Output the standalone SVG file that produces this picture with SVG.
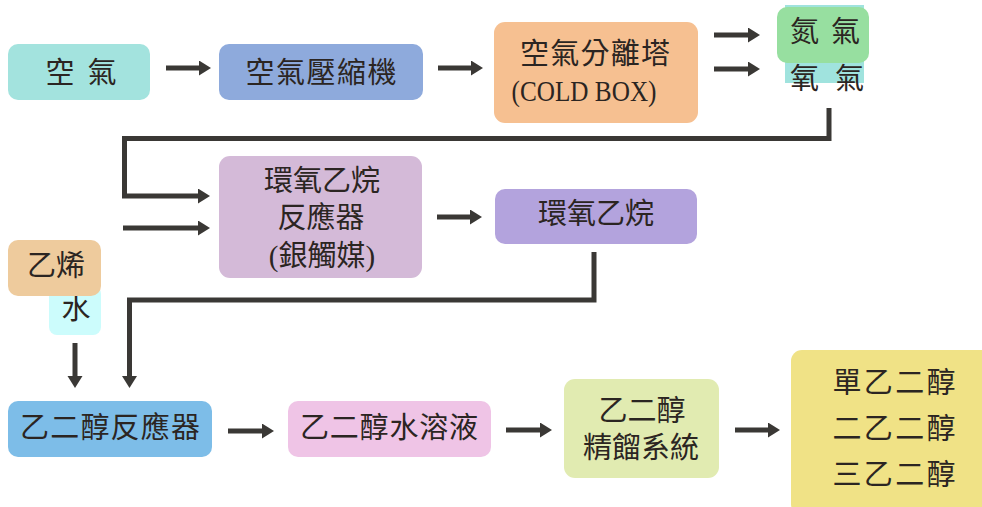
<svg xmlns="http://www.w3.org/2000/svg" width="982" height="507" viewBox="0 0 982 507">
<style>
text{font-family:"Liberation Serif","Noto Sans CJK TC",serif;font-size:29px;fill:#2b2522;text-anchor:middle;dominant-baseline:central}
.c{stroke:#3a3835;stroke-width:5;fill:none;stroke-linejoin:miter;marker-end:url(#ah)}
</style>
<defs>
<marker id="ah" markerUnits="userSpaceOnUse" markerWidth="14" markerHeight="16" refX="1" refY="7.5" orient="auto">
<path d="M0,0 L12,7.5 L0,15 z" fill="#3a3835"/>
</marker>
</defs>
<rect width="982" height="507" fill="#ffffff"/>
<g id="air"><rect x="8" y="44" width="142" height="56" rx="10" fill="#a3e3de"/><text x="81" y="73" textLength="71" lengthAdjust="spacing">空 氣</text></g>
<g id="compressor"><rect x="219" y="44" width="204" height="56" rx="10" fill="#8eaadc"/><text x="321" y="73" textLength="151" lengthAdjust="spacing">空氣壓縮機</text></g>
<g id="coldbox"><rect x="494" y="22" width="204" height="101" rx="11" fill="#f6c091"/><text x="595" y="54" textLength="150" lengthAdjust="spacing">空氣分離塔</text><text x="584" y="91" textLength="145" lengthAdjust="spacingAndGlyphs">(COLD BOX)</text></g>
<g id="oxygen"><rect x="785" y="5" width="79" height="78" fill="#a0e3de"/><text x="827" y="79" textLength="74" lengthAdjust="spacing">氧 氣</text></g>
<g id="nitrogen"><rect x="777" y="7" width="92" height="56" rx="10" fill="#97dfa0"/><text x="825" y="32" textLength="70" lengthAdjust="spacing">氮 氣</text></g>
<g id="eo_reactor"><rect x="219" y="156" width="203" height="122" rx="11" fill="#d4bad8"/><text x="322" y="181">環氧乙烷</text><text x="321" y="218">反應器</text><text x="322" y="256">(銀觸媒)</text></g>
<g id="eo"><rect x="495" y="189" width="202" height="55" rx="10" fill="#b3a3dd"/><text x="596" y="214">環氧乙烷</text></g>
<g id="water"><rect x="49" y="286" width="52" height="49" rx="8" fill="#ccfcfc"/><text x="76" y="309">水</text></g>
<g id="ethylene"><rect x="8" y="240" width="93" height="56" rx="10" fill="#eecb9d"/><text x="56" y="266">乙烯</text></g>
<g id="eg_reactor"><rect x="8" y="401" width="204" height="56" rx="10" fill="#7dbde8"/><text x="110" y="428" textLength="180" lengthAdjust="spacing">乙二醇反應器</text></g>
<g id="eg_aq"><rect x="288" y="401" width="203" height="56" rx="10" fill="#efc4e6"/><text x="389" y="428" textLength="178" lengthAdjust="spacing">乙二醇水溶液</text></g>
<g id="distill"><rect x="564" y="379" width="155" height="99" rx="11" fill="#e1ebb1"/><text x="642" y="411">乙二醇</text><text x="641" y="448">精餾系統</text></g>
<g id="products"><rect x="791" y="350" width="205" height="165" rx="11" fill="#f0e286"/><text x="894" y="383" textLength="123" lengthAdjust="spacing">單乙二醇</text><text x="894" y="429" textLength="123" lengthAdjust="spacing">二乙二醇</text><text x="894" y="475" textLength="123" lengthAdjust="spacing">三乙二醇</text></g>
<g id="connectors">
<path class="c" d="M166,68 H200"/>
<path class="c" d="M438,68 H472"/>
<path class="c" d="M714,35 H749"/>
<path class="c" d="M714,69 H749"/>
<path class="c" d="M829,108 V138.5 H124.5 V196 H199"/>
<path class="c" d="M123,228 H199"/>
<path class="c" d="M437,217 H471"/>
<path class="c" d="M594,252 V300 H129.5 V377"/>
<path class="c" d="M75,343 V377"/>
<path class="c" d="M228,431 H263"/>
<path class="c" d="M506,430 H541"/>
<path class="c" d="M735,430 H769"/>
</g>
</svg>
